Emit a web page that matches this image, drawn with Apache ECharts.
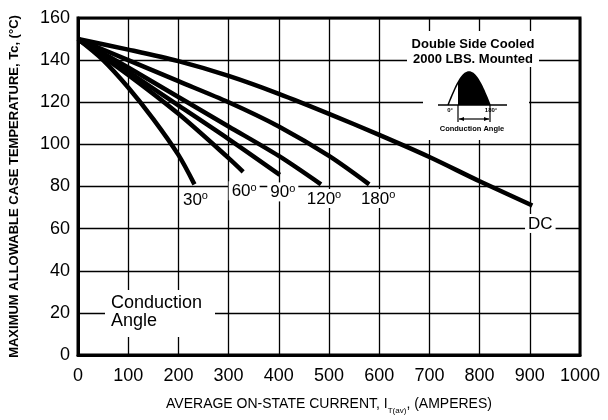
<!DOCTYPE html>
<html>
<head>
<meta charset="utf-8">
<script src="https://cdn.jsdelivr.net/npm/echarts@6/dist/echarts.min.js"></script>
<style>html,body{margin:0;padding:0;background:#fff}#c{width:608px;height:420px}</style>
</head>
<body>
<div id="c"></div>
<script>
// Data (current in A, case temperature in °C)
const xTicks = [0,100,200,300,400,500,600,700,800,900,1000];
const yTicks = [0,20,40,60,80,100,120,140,160];

const angle30I  = [0, 50, 100, 150, 200, 232];
const angle30T  = [150, 140, 127, 112, 95, 81];
const angle60I  = [0, 100, 200, 300, 329];
const angle60T  = [150, 133, 114.5, 93.5, 87];
const angle90I  = [0, 100, 200, 300, 402];
const angle90T  = [150, 134.5, 118.5, 102.5, 85.5];
const angle120I = [0, 100, 200, 300, 400, 484];
const angle120T = [150, 136.5, 122.5, 108.5, 94.5, 81];
const angle180I = [0, 100, 200, 300, 400, 500, 580];
const angle180T = [150, 140, 130, 120, 108.5, 94.5, 81];
const dcI = [0, 100, 200, 300, 400, 500, 600, 700, 800, 905];
const dcT = [150, 145, 139.5, 132.5, 124, 114.5, 104.5, 94, 82.5, 71];

const curveNames = ['30', '60', '90', '120', '180', 'DC'];

function zip(a, b) { return a.map((v, i) => [v, b[i]]); }

const chart = echarts.init(document.getElementById('c'), null, {renderer: 'canvas'});

const degRich = {
  n: {fontSize: 17, color: '#000', fontFamily: 'Liberation Sans', lineHeight: 18},
  s: {fontSize: 11, color: '#000', fontFamily: 'Liberation Sans', lineHeight: 11, verticalAlign: 'top'}
};

function makeSeries(name, xs, ys, labelText, offset) {
  const last = [xs[xs.length - 1], ys[ys.length - 1]];
  return {
    type: 'line',
    name: name,
    data: zip(xs, ys),
    smooth: 0.3,
    showSymbol: false,
    symbol: 'none',
    lineStyle: {color: '#000', width: 4.5, cap: 'butt'},
    z: 3,
    markPoint: {
      symbol: 'circle',
      symbolSize: 0,
      silent: true,
      z: 6,
      data: [{coord: last}],
      label: {
        show: true,
        position: 'inside',
        offset: offset,
        formatter: labelText,
        rich: degRich,
        color: '#000',
        fontSize: 17,
        fontFamily: 'Liberation Sans',
        backgroundColor: '#fff',
        padding: [1, 3, 0, 3]
      }
    }
  };
}

const series = [
  makeSeries(curveNames[0], angle30I, angle30T, '{n|30}{s|o}', [1, 15]),
  makeSeries(curveNames[1], angle60I, angle60T, '{n|60}{s|o}', [1, 19]),
  makeSeries(curveNames[2], angle90I, angle90T, '{n|90}{s|o}', [3, 17]),
  makeSeries(curveNames[3], angle120I, angle120T, '{n|120}{s|o}', [3, 14]),
  makeSeries(curveNames[4], angle180I, angle180T, '{n|180}{s|o}', [9, 14]),
  makeSeries(curveNames[5], dcI, dcT, '{n|DC}', [8, 18])
];

// Inset waveform geometry (decoration)
const hx0 = 448, hx1 = 490, hbase = 105, hpeak = 33, fillStart = 458;
function humpPts(from, to) {
  const pts = [];
  for (let x = from; x <= to; x += 1) {
    pts.push([x, hbase - hpeak * Math.sin(Math.PI * (x - hx0) / (hx1 - hx0))]);
  }
  return pts;
}
const fillPts = humpPts(fillStart, hx1);
fillPts.push([hx1, hbase]);
fillPts.push([fillStart, hbase]);

const option = {
  backgroundColor: '#fff',
  animation: false,
  textStyle: {fontFamily: 'Liberation Sans', color: '#000'},
  grid: {left: 78, right: 28, top: 18, bottom: 62, show: true, borderColor: '#000', borderWidth: 3, backgroundColor: '#fff'},
  xAxis: {
    type: 'value', min: xTicks[0], max: xTicks[xTicks.length - 1], interval: 100,
    axisLine: {show: true, lineStyle: {color: '#000', width: 3}},
    axisTick: {show: false},
    splitLine: {show: true, lineStyle: {color: '#000', width: 1.3}},
    axisLabel: {color: '#000', fontSize: 18, margin: 12, fontFamily: 'Liberation Sans', formatter: v => String(v)},
    name: '{a|AVERAGE ON-STATE CURRENT, I}{b|T(av)}{a|, (AMPERES)}',
    nameLocation: 'middle',
    nameGap: 41,
    nameTextStyle: {
      rich: {
        a: {fontSize: 14, color: '#000', fontFamily: 'Liberation Sans', lineHeight: 16},
        b: {fontSize: 8, color: '#000', fontFamily: 'Liberation Sans', lineHeight: 8, verticalAlign: 'bottom', padding: [0, 0, -3, 0]}
      }
    }
  },
  yAxis: {
    type: 'value', min: yTicks[0], max: yTicks[yTicks.length - 1], interval: 20,
    axisLine: {show: true, lineStyle: {color: '#000', width: 3}},
    axisTick: {show: false},
    splitLine: {show: true, lineStyle: {color: '#000', width: 1.3}},
    axisLabel: {color: '#000', fontSize: 18, margin: 8, fontFamily: 'Liberation Sans', formatter: v => String(v)},
    name: 'MAXIMUM ALLOWABLE CASE TEMPERATURE, Tc, (°C)',
    nameLocation: 'middle',
    nameGap: 57,
    nameTextStyle: {fontSize: 13, fontWeight: 'bold', color: '#000', fontFamily: 'Liberation Sans'}
  },
  series: series,
  graphic: [
    // inset background
    {type: 'rect', z: 10, shape: {x: 407, y: 31, width: 132, height: 36}, style: {fill: '#fff'}},
    {type: 'rect', z: 10, shape: {x: 423, y: 66, width: 106, height: 74}, style: {fill: '#fff'}},
    {type: 'text', z: 11, x: 473, y: 44, style: {text: 'Double Side Cooled', fill: '#000', font: 'bold 13px "Liberation Sans"', textAlign: 'center', textVerticalAlign: 'middle'}},
    {type: 'text', z: 11, x: 473, y: 59, style: {text: '2000 LBS. Mounted', fill: '#000', font: 'bold 13px "Liberation Sans"', textAlign: 'center', textVerticalAlign: 'middle'}},
    {type: 'polygon', z: 11, shape: {points: fillPts}, style: {fill: '#000'}},
    {type: 'polyline', z: 11, shape: {points: humpPts(hx0, hx1)}, style: {stroke: '#000', lineWidth: 1.5, fill: null}},
    {type: 'line', z: 11, shape: {x1: 438, y1: hbase, x2: 507, y2: hbase}, style: {stroke: '#000', lineWidth: 1.5}},
    {type: 'line', z: 11, shape: {x1: fillStart, y1: hbase, x2: fillStart, y2: 122}, style: {stroke: '#000', lineWidth: 1.2}},
    {type: 'line', z: 11, shape: {x1: hx1, y1: hbase, x2: hx1, y2: 122}, style: {stroke: '#000', lineWidth: 1.2}},
    {type: 'line', z: 11, shape: {x1: fillStart + 1, y1: 119, x2: hx1 - 1, y2: 119}, style: {stroke: '#000', lineWidth: 1.2}},
    {type: 'polygon', z: 11, shape: {points: [[fillStart + 1, 119], [fillStart + 6, 117], [fillStart + 6, 121]]}, style: {fill: '#000'}},
    {type: 'polygon', z: 11, shape: {points: [[hx1 - 1, 119], [hx1 - 6, 117], [hx1 - 6, 121]]}, style: {fill: '#000'}},
    {type: 'text', z: 11, x: 450, y: 110, style: {text: '0°', fill: '#000', font: 'bold 6px "Liberation Sans"', textAlign: 'center', textVerticalAlign: 'middle'}},
    {type: 'text', z: 11, x: 491, y: 110, style: {text: '180°', fill: '#000', font: 'bold 6px "Liberation Sans"', textAlign: 'center', textVerticalAlign: 'middle'}},
    {type: 'text', z: 11, x: 472, y: 129, style: {text: 'Conduction Angle', fill: '#000', font: 'bold 7.5px "Liberation Sans"', textAlign: 'center', textVerticalAlign: 'middle'}},
    // lower-left note
    {type: 'rect', z: 10, shape: {x: 105, y: 290, width: 110, height: 47}, style: {fill: '#fff'}},
    {type: 'text', z: 11, x: 111, y: 294, style: {text: 'Conduction\nAngle', fill: '#000', font: '18px "Liberation Sans"', lineHeight: 18, textAlign: 'left', textVerticalAlign: 'top'}}
  ]
};

chart.setOption(option);
</script>
</body>
</html>
